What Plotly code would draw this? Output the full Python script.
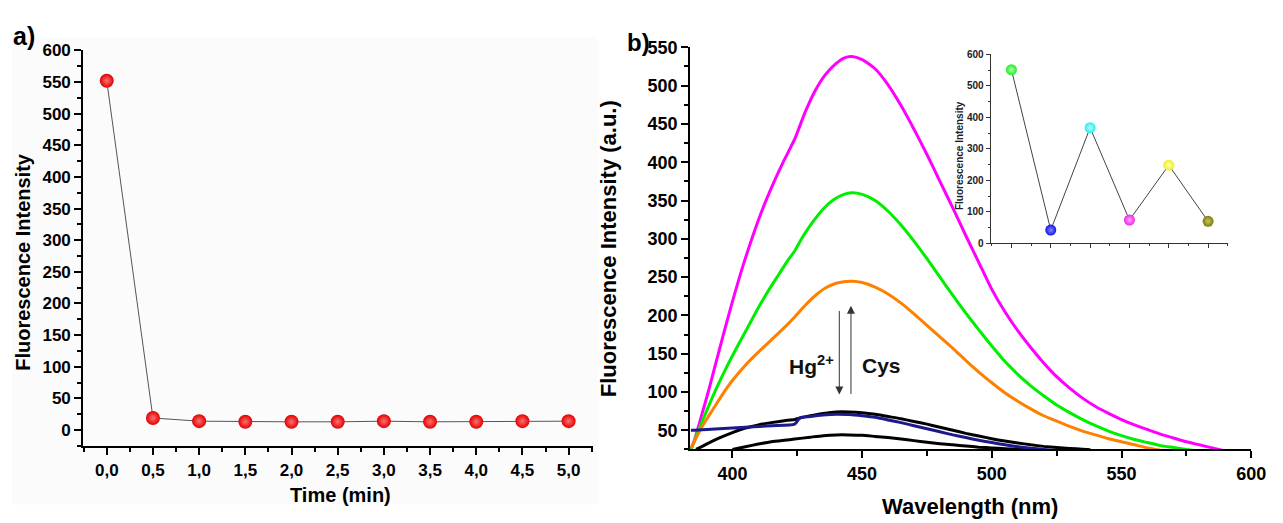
import plotly.graph_objects as go

W, H = 1283, 523
FONT = "Liberation Sans, Arial, sans-serif"

# ---------------- panel a) data ----------------
time_min = [0.0, 0.5, 1.0, 1.5, 2.0, 2.5, 3.0, 3.5, 4.0, 4.5, 5.0]
time_labels = ["0,0", "0,5", "1,0", "1,5", "2,0", "2,5", "3,0", "3,5", "4,0", "4,5", "5,0"]
intensity_time = [552, 19, 14, 13, 13, 13, 14, 13, 13, 14, 14]

# ---------------- panel b) spectra ----------------
wl_magenta = [384, 385, 388, 391, 394, 397, 400, 404, 408, 412, 416, 420, 424, 428, 432, 436, 440,
              443, 446, 450, 455, 460, 465, 470, 475, 480, 485, 490, 495, 500, 505, 510, 515,
              520, 525, 530, 535, 540, 545, 550, 555, 560, 565, 570, 575, 580, 585, 590]
i_magenta = [25, 33, 68, 104, 143, 181, 218, 264, 305, 342, 374, 403, 430, 465, 494, 515, 529,
             536, 538, 534, 522, 501, 474, 443, 410, 375, 340, 304, 269, 234, 205, 180, 158,
             138, 120, 105, 92, 81, 72, 64, 57, 51, 45, 40, 35, 31, 27, 23]

wl_green = [384, 386, 390, 394, 398, 402, 406, 410, 414, 418, 421, 424, 427, 431, 435, 439, 443,
            446, 450, 455, 460, 465, 470, 475, 480, 485, 490, 495, 500, 505, 510, 515, 520,
            525, 530, 535, 540, 545, 550, 555, 560, 565, 570, 575, 578]
i_green = [25, 42, 75, 106, 134, 160, 185, 210, 233, 254, 270, 284, 302, 322, 339, 351, 358,
           360, 358, 350, 336, 318, 297, 274, 250, 226, 203, 181, 160, 140, 123, 108, 95,
           83, 73, 64, 56, 49, 43, 38, 34, 30, 27.5, 25, 23.5]

wl_orange = [384, 386, 388, 390, 393, 396, 400, 405, 410, 415, 420, 424, 428, 432, 436, 440, 443,
             446, 450, 455, 460, 465, 470, 475, 480, 485, 490, 495, 500, 505, 510, 515, 520,
             525, 530, 535, 540, 545, 550, 555, 560, 565]
i_orange = [27, 40, 53, 64, 80, 96, 115, 135, 152, 168, 184, 198, 213, 226, 236, 242, 244,
            244.5, 243, 237, 228, 216, 202, 187, 172, 157, 141, 126, 112, 99, 88, 78, 69,
            62, 55, 49, 44, 39, 35, 31, 27, 24]

wl_blue = [384, 385, 395, 405, 415, 424, 426, 430, 435, 440, 445, 450, 455, 460, 465, 470, 475,
           480, 485, 490, 495, 500, 505, 510, 515, 520, 523]
i_blue = [50, 50, 52, 54, 56, 58, 66, 68, 70, 71, 70.5, 69, 67, 63.5, 60, 56, 52,
          48, 44, 40.5, 37, 34, 31, 28.5, 26.5, 25, 24]

wl_black1 = [386, 390, 395, 400, 405, 410, 415, 420, 424, 427, 430, 435, 440, 445, 450, 455, 460,
             465, 470, 475, 480, 485, 490, 495, 500, 505, 510, 515, 520, 525, 530, 535, 538]
i_black1 = [25, 32, 40, 47, 53, 57, 60, 62.5, 64, 67, 69, 72, 74, 74, 73, 71, 68,
            65, 61.5, 58, 54, 50, 46, 42.5, 39, 36, 33.5, 31, 29, 27.5, 26.3, 25.3, 24.5]

wl_black2 = [400, 405, 410, 415, 420, 424, 430, 435, 440, 445, 450, 455, 460, 465, 470, 475, 480,
             485, 490, 495, 500, 505, 510, 513]
i_black2 = [25, 28.5, 32, 35, 37, 38.5, 41, 43, 44, 44, 43.5, 42, 40.5, 38.5, 36.5, 34.5, 32.5,
            31, 29.5, 28, 27, 26, 25.2, 24.6]

# ---------------- inset ----------------
inset_x = [1, 2, 3, 4, 5, 6]
inset_y = [551, 42, 367, 74, 248, 70]
inset_colors = ["#22ee22", "#1010ee", "#22eeee", "#ee22ee", "#eeee22", "#7a7a10"]
inset_centers = ["#aaffaa", "#8888ff", "#bbffff", "#ffaaff", "#ffffbb", "#c8c860"]

# annotation anchor values (data units of panel b)
arrow_down = dict(x=441.2, y_from=207.7, y_to=96.6)
arrow_up = dict(x=445.7, y_from=95.4, y_to=212.7)
hg_pos = (430.3, 135.0)
cys_pos = (457.5, 135.0)


def px(x):
    return x / W


def py(y):
    return 1 - y / H


fig = go.Figure()

# panel a
fig.add_trace(go.Scatter(
    x=time_min, y=intensity_time, mode="lines+markers", xaxis="x", yaxis="y",
    line=dict(color="#555555", width=1),
    marker=dict(size=14, color="#e00000", gradient=dict(type="radial", color="#ff7070"),
                line=dict(width=0)),
    showlegend=False))

# panel b spectra
spectra = [
    (wl_magenta, i_magenta, "#ff00ff"),
    (wl_green, i_green, "#00ee00"),
    (wl_orange, i_orange, "#ff8000"),
    (wl_black1, i_black1, "#000000"),
    (wl_black2, i_black2, "#000000"),
    (wl_blue, i_blue, "#1a1a8c"),
]
for wx, wy, col in spectra:
    fig.add_trace(go.Scatter(x=wx, y=wy, mode="lines", xaxis="x2", yaxis="y2",
                             line=dict(color=col, width=3, shape="spline", smoothing=0.6),
                             showlegend=False))

# inset
fig.add_trace(go.Scatter(
    x=inset_x, y=inset_y, mode="lines+markers", xaxis="x3", yaxis="y3",
    line=dict(color="#444444", width=1),
    marker=dict(size=11, color=inset_colors,
                gradient=dict(type="radial", color=inset_centers), line=dict(width=0)),
    showlegend=False))

axis_common = dict(showgrid=False, zeroline=False, showline=True, linecolor="black",
                   linewidth=2, ticks="outside", tickcolor="black", tickwidth=2,
                   mirror=False)

fig.update_layout(
    width=W, height=H, margin=dict(l=0, r=0, t=0, b=0),
    paper_bgcolor="white", plot_bgcolor="rgba(0,0,0,0)",
    font=dict(family=FONT, color="black"),
    xaxis=dict(**axis_common, domain=[px(84.2), px(600)], range=[-0.255, 5.264],
               anchor="y", tickmode="array", tickvals=time_min, ticktext=time_labels,
               ticklen=7, tickfont=dict(size=17, weight="bold"),
               minor=dict(ticks="outside", ticklen=4, tickwidth=1.5, tickcolor="black",
                          dtick=0.25, tick0=-0.25)),
    yaxis=dict(**axis_common, domain=[py(450), py(41.7)], range=[-25.6, 600], anchor="x",
               dtick=50, tick0=0, ticklen=7, tickfont=dict(size=17, weight="bold"),
               minor=dict(ticks="outside", ticklen=4, tickwidth=1.5, tickcolor="black",
                          dtick=25, tick0=0)),
    xaxis2=dict(**axis_common, domain=[px(698.3), px(1266)], range=[383.7, 600],
                anchor="y2", dtick=50, tick0=400, ticklen=7,
                tickfont=dict(size=18, weight="bold"),
                minor=dict(ticks="outside", ticklen=5, tickwidth=1.5, tickcolor="black",
                           dtick=25, tick0=400)),
    yaxis2=dict(**axis_common, domain=[py(453.3), py(38.5)], range=[25, 550], anchor="x2",
                dtick=50, tick0=0, ticklen=7, tickfont=dict(size=18, weight="bold"),
                minor=dict(ticks="outside", ticklen=4, tickwidth=1.5, tickcolor="black",
                           dtick=25, tick0=0)),
    xaxis3=dict(showgrid=False, zeroline=False, showline=True, linecolor="#333333",
                linewidth=1, ticks="outside", tickcolor="#333333", tickwidth=1, ticklen=4,
                domain=[px(1002.3), px(1242.7)], range=[0.47, 6.51], anchor="y3",
                dtick=1, tick0=1, showticklabels=False,
                minor=dict(ticks="outside", ticklen=2, tickwidth=1, tickcolor="#333333",
                           dtick=0.5, tick0=1)),
    yaxis3=dict(showgrid=False, zeroline=False, showline=True, linecolor="#333333",
                linewidth=1, ticks="outside", tickcolor="#333333", tickwidth=1, ticklen=4,
                domain=[py(240.7), py(45.7)], range=[0, 600], anchor="x3",
                dtick=100, tick0=0, tickfont=dict(size=10, weight="bold", color="#222222"),
                minor=dict(ticks="outside", ticklen=2, tickwidth=1, tickcolor="#333333",
                           dtick=50, tick0=0)),
)

# faint panel background for a)
fig.add_shape(type="rect", xref="paper", yref="paper", x0=px(12), x1=px(605),
              y0=py(510), y1=py(28), fillcolor="#fbfbfb", line=dict(width=0), layer="below")


def label(text, x, y, size, angle=0, color="black"):
    return dict(text=text, x=px(x), y=py(y), xref="paper", yref="paper", showarrow=False,
                xanchor="center", yanchor="middle", textangle=angle,
                font=dict(size=size, family=FONT, color=color))


ann = [
    label("<b>a)</b>", 24, 27, 25),
    label("<b>b)</b>", 646, 34, 24),
    label("<b>Fluorescence Intensity</b>", 23, 260, 20, -90),
    label("<b>Time (min)</b>", 345, 500, 20),
    label("<b>Fluorescence Intensity (a.u.)</b>", 616, 246, 22, -90),
    label("<b>Wavelength (nm)</b>", 981, 512, 22),
    label("<b>Fluorescence Intensity</b>", 971, 150, 10, -90, "#222222"),
]
# Hg / Cys labels
ann.append(dict(text="<b>Hg<sup>2+</sup></b>", x=hg_pos[0], y=hg_pos[1], xref="x2", yref="y2",
                xanchor="center", yanchor="middle", showarrow=False,
                font=dict(size=21, family=FONT, color="#111111")))
ann.append(dict(text="<b>Cys</b>", x=cys_pos[0], y=cys_pos[1], xref="x2", yref="y2",
                xanchor="center", yanchor="middle", showarrow=False,
                font=dict(size=21, family=FONT, color="#111111")))
# arrows
for a in (arrow_down, arrow_up):
    ann.append(dict(x=a["x"], y=a["y_to"], ax=a["x"], ay=a["y_from"], xref="x2", yref="y2",
                    axref="x2", ayref="y2", text="", showarrow=True, arrowhead=2,
                    arrowsize=1.6, arrowwidth=1, arrowcolor="#333333"))
fig.update_layout(annotations=ann)

fig.write_html("out.html")
